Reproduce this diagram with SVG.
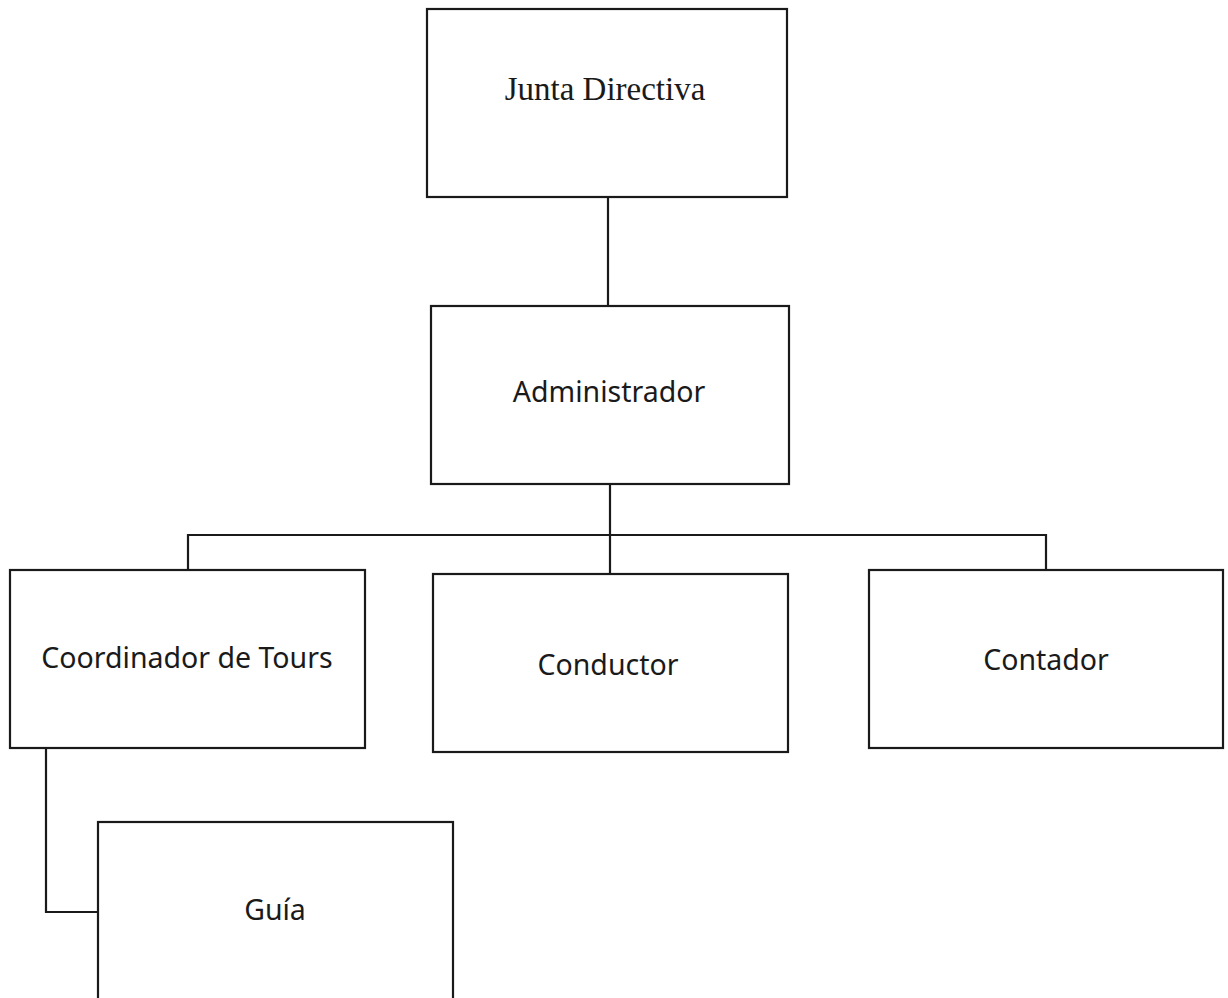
<svg xmlns="http://www.w3.org/2000/svg" width="1228" height="998" viewBox="0 0 1228 998">
<style>
.box{fill:#fff;stroke:#1a1a1a;stroke-width:2.2}
.ln{fill:none;stroke:#1a1a1a;stroke-width:2.2}
.t{font-family:"Noto Sans","Open Sans",sans-serif;font-size:28.5px;fill:#1a1a1a;text-anchor:middle}
.ts{font-family:"Liberation Serif","Times New Roman",serif;font-size:33px;fill:#1a1a1a;text-anchor:middle}
</style>
<rect width="1228" height="998" fill="#fff"/>
<g id="connectors">
<line class="ln" x1="608" y1="197" x2="608" y2="306"/>
<line class="ln" x1="610" y1="484" x2="610" y2="574"/>
<polyline class="ln" points="188,570 188,535 1046,535 1046,570"/>
<polyline class="ln" points="46,748 46,912 98,912"/>
</g>
<g id="junta">
<rect class="box" x="427" y="9" width="360" height="188"/>
<text class="ts" x="605" y="100">Junta Directiva</text>
</g>
<g id="administrador">
<rect class="box" x="431" y="306" width="358" height="178"/>
<text class="t" x="609" y="402">Administrador</text>
</g>
<g id="coordinador">
<rect class="box" x="10" y="570" width="355" height="178"/>
<text class="t" x="187" y="668">Coordinador de Tours</text>
</g>
<g id="conductor">
<rect class="box" x="433" y="574" width="355" height="178"/>
<text class="t" x="608" y="675">Conductor</text>
</g>
<g id="contador">
<rect class="box" x="869" y="570" width="354" height="178"/>
<text class="t" x="1046" y="670">Contador</text>
</g>
<g id="guia">
<rect class="box" x="98" y="822" width="355" height="190"/>
<text class="t" x="275" y="920">Guía</text>
</g>
</svg>
